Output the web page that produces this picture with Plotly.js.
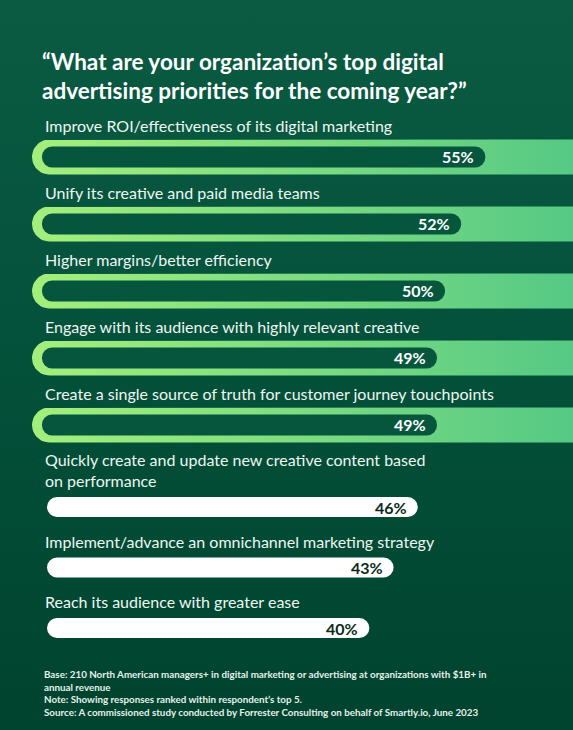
<!DOCTYPE html>
<html>
<head>
<meta charset="utf-8">
<script src="https://cdn.plot.ly/plotly-3.0.1.min.js"></script>
<style>
  body { margin: 0; background: #01452f; }
  #chart { width: 573px; height: 730px; background: linear-gradient(180deg, #0b5a42 0%, #04523b 45%, #00432e 100%); }
</style>
</head>
<body>
<div id="chart"></div>
<script>
// the top five answers are highlighted in the original, the other three are plain
var topCategories = [
    'Improve ROI/effectiveness of its digital marketing',
    'Unify its creative and paid media teams',
    'Higher margins/better efficiency',
    'Engage with its audience with highly relevant creative',
    'Create a single source of truth for customer journey touchpoints'
];
var topValues = [55, 52, 50, 49, 49];

var otherCategories = [
    'Quickly create and update new creative content based<br>on performance',
    'Implement/advance an omnichannel marketing strategy',
    'Reach its audience with greater ease'
];
var otherValues = [46, 43, 40];

var titleText = '“What are your organization’s top digital<br>advertising priorities for the coming year?”';
var footnoteLines = [
    'Base: 210 North American managers+ in digital marketing or advertising at organizations with $1B+ in',
    'annual revenue',
    'Note: Showing responses ranked within respondent’s top 5.',
    'Source: A commissioned study conducted by Forrester Consulting on behalf of Smartly.io, June 2023'
];

var W = 573, H = 730;
var PX = 8.06;                 // pixels per percentage point
var TOP_ORIGIN = 42, OTHER_ORIGIN = 47;
var TOP_STEP = 67, OTHER_STEP = 60.5;
var FONT = 'Lato, "Open Sans", sans-serif';

var paperY = function (px) { return 1 - px / H; };
var rowsOf = function (arr) { return arr.map(function (c, i) { return i; }); };

var topRows = rowsOf(topCategories);
var otherRows = rowsOf(otherCategories);

// pill shaped bar, explicit base so both ends get rounded
var pill = function (rows, values, xa, ya, color, thick, step) {
    return {type: 'bar', orientation: 'h', y: rows, x: values, base: 0,
        width: thick / step, marker: {color: color, cornerradius: '50%'},
        xaxis: xa, yaxis: ya, hoverinfo: 'skip', showlegend: false};
};

// light green highlight band behind each of the top rows
var bandX = [], bandY = [];
var bandLeft = (32 - TOP_ORIGIN) / PX;
var bandRight = (W - TOP_ORIGIN) / PX + 2;
var bandRx = 17.5 / PX, bandRy = 17.5 / TOP_STEP;
topRows.forEach(function (i) {
    var cx = bandLeft + bandRx;
    bandX.push(bandRight); bandY.push(i - bandRy);
    for (var k = 0; k <= 24; k++) {
        var t = -Math.PI / 2 + Math.PI * k / 24;
        bandX.push(cx - bandRx * Math.cos(t));
        bandY.push(i + bandRy * Math.sin(t));
    }
    bandX.push(bandRight); bandY.push(i + bandRy);
    bandX.push(null); bandY.push(null);
});

var band = {
    type: 'scatter', mode: 'lines', x: bandX, y: bandY,
    fill: 'toself', line: {width: 0, color: 'rgba(0,0,0,0)'},
    fillcolor: '#7fdc7f',
    fillgradient: {type: 'horizontal', start: bandLeft, stop: (W - TOP_ORIGIN) / PX,
        colorscale: [[0, '#a3ef7c'], [1, '#56c985']]},
    hoverinfo: 'skip', showlegend: false, xaxis: 'x', yaxis: 'y'
};

// dark bars live on an overlaid subplot so they sit above the band
var data = [
    band,
    pill(topRows, topValues, 'x3', 'y3', '#06563e', 21, TOP_STEP),
    pill(otherRows, otherValues, 'x2', 'y2', '#ffffff', 20, OTHER_STEP)
];

var annotations = [];
topCategories.forEach(function (c, i) {
    annotations.push({xref: 'paper', x: 43 / W, xanchor: 'left', yref: 'y', y: i, yanchor: 'bottom', yshift: 20,
        text: c, showarrow: false, align: 'left', font: {family: FONT, size: 16, color: '#eef7f1'}});
    annotations.push({xref: 'x', x: topValues[i], xanchor: 'right', xshift: -9, yref: 'y', y: i, yanchor: 'middle',
        text: topValues[i] + '%', showarrow: false, font: {family: FONT, size: 16, weight: 'bold', color: '#ffffff'}});
});
otherCategories.forEach(function (c, i) {
    annotations.push({xref: 'paper', x: 43 / W, xanchor: 'left', yref: 'y2', y: i, yanchor: 'bottom', yshift: 15,
        text: c, showarrow: false, align: 'left', font: {family: FONT, size: 16, color: '#eef7f1'}});
    annotations.push({xref: 'x2', x: otherValues[i], xanchor: 'right', xshift: -9, yref: 'y2', y: i, yanchor: 'middle',
        text: otherValues[i] + '%', showarrow: false, font: {family: FONT, size: 16, weight: 'bold', color: '#0c2a20'}});
});
annotations.push({xref: 'paper', x: 42 / W, xanchor: 'left', yref: 'paper', y: paperY(666), yanchor: 'top',
    text: footnoteLines.join('<br>'), showarrow: false, align: 'left',
    font: {family: FONT, size: 9.8, weight: 'bold', color: '#e6f1eb'}});

var hidden = {visible: false, fixedrange: true, showgrid: false, zeroline: false};
var topXRange = [-TOP_ORIGIN / PX, (W - TOP_ORIGIN) / PX];
var topYRange = [4.5, -0.5];

var layout = {
    width: W, height: H,
    margin: {l: 0, r: 0, t: 0, b: 0},
    paper_bgcolor: 'rgba(0,0,0,0)',
    plot_bgcolor: 'rgba(0,0,0,0)',
    barmode: 'overlay',
    showlegend: false,
    title: {text: titleText, x: 42 / W, xanchor: 'left', y: paperY(70), yanchor: 'middle',
        font: {family: FONT, size: 22.5, weight: 'bold', color: '#ffffff'}},
    xaxis: Object.assign({}, hidden, {domain: [0, 1], range: topXRange}),
    yaxis: Object.assign({}, hidden, {domain: [paperY(157 + 4.5 * TOP_STEP), paperY(157 - 0.5 * TOP_STEP)], range: topYRange}),
    xaxis3: Object.assign({}, hidden, {overlaying: 'x', anchor: 'y3', range: topXRange}),
    yaxis3: Object.assign({}, hidden, {overlaying: 'y', anchor: 'x3', range: topYRange}),
    xaxis2: Object.assign({}, hidden, {domain: [0, 1], range: [-OTHER_ORIGIN / PX, (W - OTHER_ORIGIN) / PX], anchor: 'y2'}),
    yaxis2: Object.assign({}, hidden, {domain: [paperY(507 + 2.5 * OTHER_STEP), paperY(507 - 0.5 * OTHER_STEP)], range: [2.5, -0.5], anchor: 'x2'}),
    annotations: annotations
};

Plotly.newPlot('chart', data, layout, {displayModeBar: false, staticPlot: true});
</script>
</body>
</html>
